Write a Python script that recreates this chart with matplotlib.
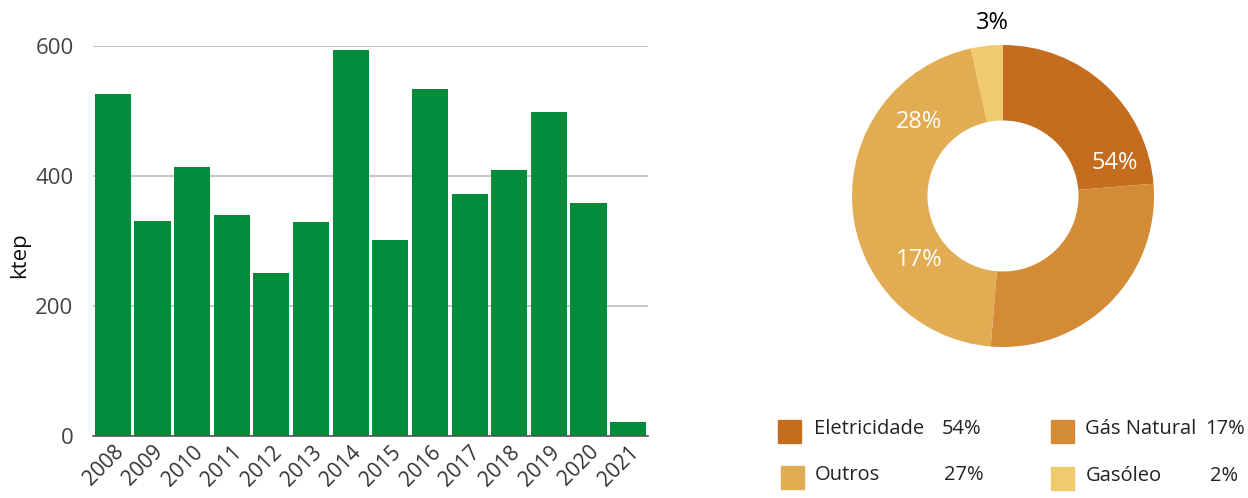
import matplotlib
matplotlib.use("Agg")
import matplotlib.pyplot as plt
import numpy as np
from matplotlib.patches import Rectangle

plt.rcParams['font.family'] = ['Open Sans', 'DejaVu Sans']

# ---- data ----
years = ['2008', '2009', '2010', '2011', '2012', '2013', '2014',
         '2015', '2016', '2017', '2018', '2019', '2020', '2021']
values = [526, 331, 414, 340, 251, 329, 594, 302, 534, 372, 409, 498, 358, 21]
yticks = [0, 200, 400, 600]

slice_names = ['Eletricidade', 'Gás Natural', 'Outros', 'Gasóleo']
slice_shares = [23.7, 27.6, 45.3, 3.4]
slice_colors = ['#C46D1F', '#D38B36', '#E1AC52', '#EFCA6E']
donut_texts = ['54%', '28%', '17%', '3%']
legend_pcts = ['54%', '17%', '27%', '2%']

W, H = 1248, 498
fig = plt.figure(figsize=(W / 100, H / 100), dpi=100)

# ---- bar chart ----
ax = fig.add_axes([93 / W, 1 - 436 / H, (648 - 93) / W, (436 - 46) / H])
x = np.arange(len(years))
ax.bar(x, values, width=0.91, color='#008C3A', zorder=3)
ax.set_xlim(-0.5, len(years) - 0.5)
ax.set_ylim(0, 600)
ax.set_yticks(yticks)
ax.set_yticklabels([str(v) for v in yticks], fontsize=16, color='#444444')
ax.set_xticks(x)
ax.set_xticklabels(years, rotation=45, ha='right', rotation_mode='anchor',
                   fontsize=15, color='#333333')
ax.tick_params(axis='both', length=0)
ax.tick_params(axis='y', pad=14)
ax.tick_params(axis='x', pad=4)
for s in ['top', 'right', 'left']:
    ax.spines[s].set_visible(False)
ax.spines['bottom'].set_color('#555555')
ax.spines['bottom'].set_linewidth(1.2)
ax.spines['bottom'].set_zorder(4)
ax.yaxis.grid(True, color='#BBBBBB', linewidth=1.2, zorder=0)
ax.set_ylabel('ktep', fontsize=16, color='#111111', va='center')
ax.yaxis.set_label_coords((20 - 93) / (648 - 93), (436 - 255) / (436 - 46))

# ---- donut ----
cx, cy, R = 1003, 196, 151
k = 1.25
size = 2 * R * k
pax = fig.add_axes([(cx - size / 2) / W, (H - cy - size / 2) / H, size / W, size / H])
pax.pie(slice_shares, colors=slice_colors, startangle=90, counterclock=False,
        radius=1.0, wedgeprops=dict(width=0.5, linewidth=0))
pax.set_xlim(-k, k)
pax.set_ylim(-k, k)
pax.set_aspect('auto')
pax.axis('off')

# label positions (angle clockwise from top, radius fraction)
lab_pos = [(73.4, 0.77), (311.4, 0.74), (232.7, 0.70), (356.6, 1.15)]
for txt, (ang, r) in zip(donut_texts, lab_pos):
    th = np.deg2rad(90 - ang)
    col = 'black' if r > 1 else 'white'
    pax.text(r * np.cos(th), r * np.sin(th), txt, ha='center', va='center',
             fontsize=17, color=col)

# ---- legend ----
leg_sq = [(778, 420), (1051, 420), (781, 466), (1051, 467)]
leg_txt_x = [814, 1085, 815, 1086]
leg_pct_x = [942, 1205, 944, 1210]
for i, name in enumerate(slice_names):
    sx, sy = leg_sq[i]
    fig.patches.append(Rectangle((sx / W, 1 - (sy + 23) / H), 23 / W, 23 / H,
                                 transform=fig.transFigure, color=slice_colors[i]))
    ty = 1 - (sy + 9) / H
    fig.text(leg_txt_x[i] / W, ty, name, fontsize=14.5, color='#222222',
             ha='left', va='center')
    fig.text(leg_pct_x[i] / W, ty, legend_pcts[i], fontsize=14.5, color='#222222',
             ha='left', va='center')

fig.savefig('out.png', dpi=100, facecolor='white')
